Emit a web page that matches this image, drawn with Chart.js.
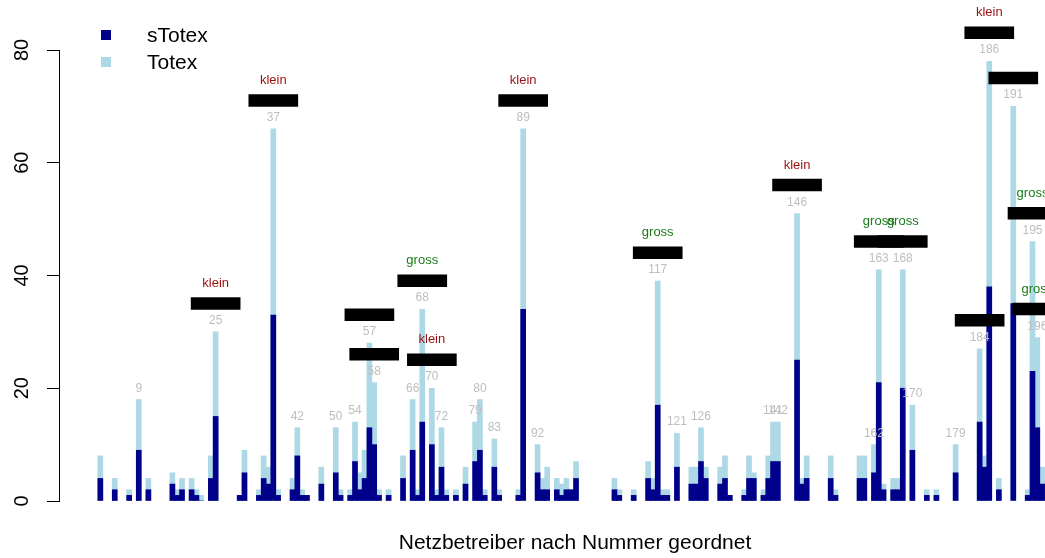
<!DOCTYPE html>
<html>
<head>
<meta charset="utf-8">
<script src="https://cdn.jsdelivr.net/npm/chart.js@4.4.1/dist/chart.umd.min.js"></script>
<style>
  html, body { margin: 0; padding: 0; background: #fff; }
  #wrap { width: 1045px; height: 558px; position: relative; }
</style>
</head>
<body>
<div id="wrap"><canvas id="c"></canvas></div>
<script>
// operator numbers and their values
const ids = [1, 4, 7, 9, 11, 16, 17, 18, 20, 21, 22, 24, 25, 30, 31, 34, 35, 36, 37, 38,
  41, 42, 43, 44, 47, 50, 51, 53, 54, 55, 56, 57, 58, 59, 61, 64, 66, 67, 68, 70,
  71, 72, 73, 75, 77, 79, 80, 81, 83, 84, 88, 89, 92, 93, 94, 96, 97, 98, 99, 100,
  108, 109, 112, 115, 116, 117, 118, 119, 121, 124, 125, 126, 127, 130, 131, 132, 135, 136, 137, 139,
  140, 141, 142, 146, 147, 148, 153, 154, 159, 160, 162, 163, 164, 166, 167, 168, 170, 173, 175, 179,
  184, 185, 186, 188, 191, 194, 195, 196, 197];
const totex = [8, 4, 2, 18, 4, 5, 2, 4, 4, 2, 1, 8, 30, 1, 9, 2, 8, 6, 66, 2,
  4, 13, 2, 1, 6, 13, 2, 2, 14, 5, 9, 28, 21, 2, 2, 8, 18, 2, 34, 20,
  2, 13, 2, 2, 6, 14, 18, 2, 11, 2, 2, 66, 10, 4, 6, 4, 3, 4, 2, 7,
  4, 2, 2, 7, 4, 39, 2, 2, 12, 6, 6, 13, 6, 6, 8, 1, 2, 8, 5, 2,
  8, 14, 14, 51, 4, 8, 8, 2, 8, 8, 10, 41, 3, 4, 4, 41, 17, 2, 2, 10,
  27, 8, 78, 4, 70, 2, 46, 29, 6];
const stotex = [4, 2, 1, 9, 2, 3, 1, 2, 2, 1, 0, 4, 15, 1, 5, 1, 4, 3, 33, 1,
  2, 8, 1, 1, 3, 5, 1, 1, 7, 2, 4, 13, 10, 1, 1, 4, 9, 1, 14, 10,
  1, 6, 1, 1, 3, 7, 9, 1, 6, 1, 1, 34, 5, 2, 2, 2, 1, 2, 2, 4,
  2, 1, 1, 4, 2, 17, 1, 1, 6, 3, 3, 7, 4, 3, 4, 1, 1, 4, 4, 1,
  4, 7, 7, 25, 3, 4, 4, 1, 4, 4, 5, 21, 2, 2, 2, 20, 9, 1, 1, 5,
  14, 6, 38, 2, 35, 1, 23, 13, 3];

// operators with a grey number above the bar
const labelIds = [9, 25, 37, 42, 50, 54, 57, 58, 66, 68, 70, 72, 79, 80, 83, 89, 92,
  117, 121, 126, 141, 142, 146, 162, 163, 168, 170, 179, 184, 186, 191, 195, 196];
// operators with a black box, and the size class written above it
const boxIds = [25, 37, 57, 58, 68, 70, 89, 117, 146, 163, 168, 184, 186, 191, 195, 196];
const boxSize = ['klein', 'klein', '', '', 'gross', 'klein', 'klein', 'gross', 'klein',
  'gross', 'gross', '', 'klein', '', 'gross', 'gross'];

const yTicks = [0, 20, 40, 60, 80];
const seriesNames = ['sTotex', 'Totex'];
const xTitle = 'Netzbetreiber nach Nummer geordnet';

const FONT = '"Liberation Sans", Arial, Helvetica, sans-serif';
const DARK = '#00008B';
const LIGHT = '#ADD8E6';

const tOf = id => totex[ids.indexOf(id)];

const extras = {
  id: 'extras',
  afterDatasetsDraw(chart) {
    const { ctx, scales: { x, y } } = chart;
    ctx.save();
    ctx.textAlign = 'center';
    ctx.textBaseline = 'middle';

    // grey operator numbers
    ctx.font = '12px ' + FONT;
    ctx.fillStyle = '#BEBEBE';
    labelIds.forEach(id => {
      ctx.fillText(String(id), x.getPixelForValue(id), y.getPixelForValue(tOf(id) + 2));
    });

    // klein / gross
    ctx.font = '13px ' + FONT;
    boxIds.forEach((id, i) => {
      if (!boxSize[i]) return;
      ctx.fillStyle = boxSize[i] === 'klein' ? '#9B1010' : '#1A7A1A';
      ctx.fillText(boxSize[i], x.getPixelForValue(id), y.getPixelForValue(tOf(id) + 8.6));
    });

    // y tick labels, rotated like R does
    ctx.font = '20px ' + FONT;
    ctx.fillStyle = '#000';
    yTicks.forEach(v => {
      ctx.save();
      ctx.translate(22, y.getPixelForValue(v));
      ctx.rotate(-Math.PI / 2);
      ctx.fillText(String(v), 0, 0);
      ctx.restore();
    });

    // x title
    ctx.font = '21px ' + FONT;
    ctx.fillText(xTitle, 575, 543);

    // legend
    ctx.textAlign = 'left';
    [DARK, LIGHT].forEach((col, i) => {
      const cy = 35 + i * 27;
      ctx.fillStyle = col;
      ctx.fillRect(101, cy - 5, 10, 10);
      ctx.fillStyle = '#000';
      ctx.fillText(seriesNames[i], 147, cy + 1);
    });
    ctx.restore();
  }
};

new Chart(document.getElementById('c'), {
  type: 'bar',
  data: {
    datasets: [
      {
        label: 'box',
        data: boxIds.map(id => ({ x: id, y: [tOf(id) + 4, tOf(id) + 6.1] })),
        backgroundColor: '#000',
        barThickness: 49,
        grouped: false,
        clip: false,
        order: 0
      },
      {
        label: seriesNames[0],
        data: ids.map((id, i) => ({ x: id, y: stotex[i] })),
        backgroundColor: DARK,
        barThickness: 5,
        grouped: false,
        order: 1
      },
      {
        label: seriesNames[1],
        data: ids.map((id, i) => ({ x: id, y: totex[i] })),
        backgroundColor: LIGHT,
        barThickness: 5,
        grouped: false,
        order: 2
      }
    ]
  },
  options: {
    responsive: true,
    maintainAspectRatio: false,
    animation: false,
    layout: { padding: { top: 50, bottom: 57, left: 0, right: 0 } },
    plugins: { legend: { display: false }, tooltip: { enabled: false } },
    scales: {
      x: {
        type: 'linear',
        min: -7.6,
        max: 197.6,
        offset: false,
        display: false
      },
      y: {
        min: 0,
        max: 80,
        ticks: { stepSize: 20, display: false },
        grid: { drawOnChartArea: false, drawTicks: true, tickLength: 12, color: '#000' },
        border: { display: true, color: '#000', width: 1 },
        afterFit: s => { s.width = 59; }
      }
    }
  },
  plugins: [extras]
});
</script>
</body>
</html>
